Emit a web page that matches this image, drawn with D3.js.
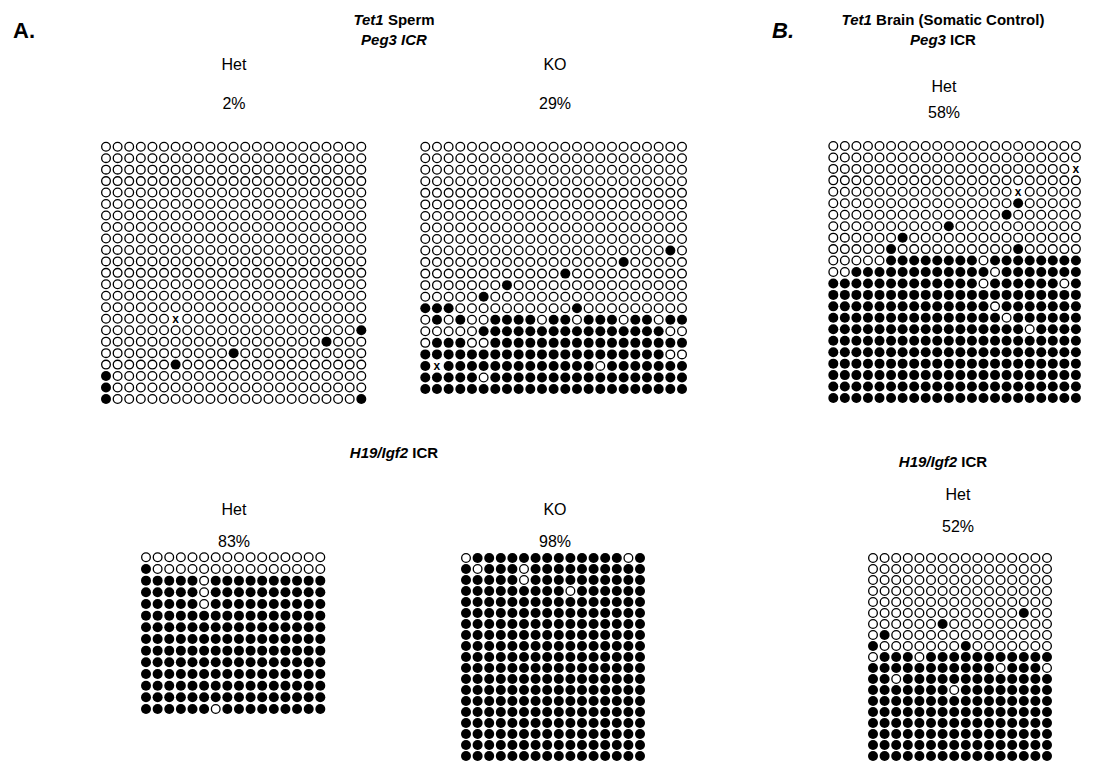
<!DOCTYPE html>
<html>
<head>
<meta charset="utf-8">
<script src="https://cdn.jsdelivr.net/npm/d3@7"></script>
<style>
  html, body { margin: 0; padding: 0; background: #fff; }
  svg { display: block; }
  text { font-family: "Liberation Sans", Arial, sans-serif; fill: #000; }
</style>
</head>
<body>
<div id="chart"></div>
<script>
// Bisulfite clones, one string per clone (row), one char per CpG.
// 1 = methylated (filled), 0 = unmethylated (open), x = not determined

const peg3SpermHet = [
  "00000000000000000000000",
  "00000000000000000000000",
  "00000000000000000000000",
  "00000000000000000000000",
  "00000000000000000000000",
  "00000000000000000000000",
  "00000000000000000000000",
  "00000000000000000000000",
  "00000000000000000000000",
  "00000000000000000000000",
  "00000000000000000000000",
  "00000000000000000000000",
  "00000000000000000000000",
  "00000000000000000000000",
  "00000000000000000000000",
  "000000x0000000000000000",
  "00000000000000000000001",
  "00000000000000000001000",
  "00000000000100000000000",
  "00000010000000000000000",
  "10000000000000000000000",
  "10000000000000000000000",
  "10000000000000000000001"
];

const peg3SpermKO = [
  "00000000000000000000000",
  "00000000000000000000000",
  "00000000000000000000000",
  "00000000000000000000000",
  "00000000000000000000000",
  "00000000000000000000000",
  "00000000000000000000000",
  "00000000000000000000000",
  "00000000000000000000000",
  "00000000000000000000010",
  "00000000000000000100000",
  "00000000000010000000000",
  "00000001000000000000000",
  "00000100000000000000000",
  "11100000000001000000000",
  "01010011110110111011011",
  "00000111111111111111100",
  "01110011111111111111111",
  "11111111111111111111100",
  "1x111111111111101111111",
  "11111011111111111111111",
  "11111111111111111111111"
];

const peg3BrainHet = [
  "0000000000000000000000",
  "0000000000000000000000",
  "000000000000000000000x",
  "0000000000000000000000",
  "0000000000000000x00000",
  "0000000000000000100000",
  "0000000000000001000000",
  "0000000000100000000000",
  "0000001000000000000000",
  "0000010000000000100000",
  "0000011111111011111111",
  "0011111111111101111111",
  "1111111111111011111101",
  "1111111111111111111111",
  "1111111111111101111111",
  "1111111111111110111111",
  "1111111111111111101111",
  "1111111111111111111111",
  "1111111111111111111111",
  "1111111111111111111111",
  "1111111111111111111111",
  "1111111111111111111111",
  "1111111111111111111111"
];

const h19SpermHet = [
  "0000000000000000",
  "1000000000000000",
  "1111101111111111",
  "1111101111111111",
  "1111101111111111",
  "1111111111111111",
  "1111111111111111",
  "1111111111111111",
  "1111111111111111",
  "1111111111111111",
  "1111111111111111",
  "1111111111111111",
  "1111111111111111",
  "1111110111111111"
];

const h19SpermKO = [
  "0111111111111101",
  "1011101111111111",
  "1111101111111111",
  "1111111110111111",
  "1111111111111111",
  "1111111111111111",
  "1111111111111111",
  "1111111111111111",
  "1111111111111111",
  "1111111111111111",
  "1111111111111111",
  "1111111111111111",
  "1111111111111111",
  "1111111111111111",
  "1111111111111111",
  "1111111111111111",
  "1111111111111111",
  "1111111111111111",
  "1111111111111111"
];

const h19BrainHet = [
  "0000000000000000",
  "0000000000000000",
  "0000000000000000",
  "0000000000000000",
  "0000000000000000",
  "0000000000000100",
  "0000001000000000",
  "0100000000000000",
  "1000000010000000",
  "0111011111111111",
  "1111111111101110",
  "1101111111111111",
  "1111111011111111",
  "1111111111111111",
  "1111111111111111",
  "1111111111111111",
  "1111111111111111",
  "1111111111111111",
  "1111111111111111"
];

const genotypes = ["Het", "KO", "Het", "Het", "KO", "Het"];
const percentLabels = ["2%", "29%", "58%", "83%", "98%", "52%"];

const width = 1110;
const height = 770;

const svg = d3.select("#chart")
  .append("svg")
  .attr("width", width)
  .attr("height", height);

// grid placement: first / last CpG centre and first / last clone centre
const panels = [
  { rows: peg3SpermHet, x: [106, 361.3], y: [146.7, 399], labelX: 234, labelY: [70, 109] },
  { rows: peg3SpermKO,  x: [425.3, 682], y: [146.7, 389], labelX: 555, labelY: [70, 109] },
  { rows: peg3BrainHet, x: [833.3, 1075.9], y: [146, 398], labelX: 944, labelY: [92, 118] },
  { rows: h19SpermHet,  x: [146, 320.3], y: [557.3, 709], labelX: 234, labelY: [515, 547] },
  { rows: h19SpermKO,   x: [466, 640], y: [558, 756], labelX: 555, labelY: [515, 547] },
  { rows: h19BrainHet,  x: [873, 1047], y: [558, 756], labelX: 958, labelY: [500, 532] }
];

function drawGrid(panel, i) {
  const nCols = panel.rows[0].length;
  const nRows = panel.rows.length;
  const xScale = d3.scaleLinear().domain([0, nCols - 1]).range(panel.x);
  const yScale = d3.scaleLinear().domain([0, nRows - 1]).range(panel.y);

  const cells = [];
  panel.rows.forEach((row, r) => {
    if (row.length !== nCols) console.warn("panel", i, "row", r, "has", row.length);
    row.split("").forEach((v, c) => cells.push({ r, c, v }));
  });

  const g = svg.append("g").attr("class", "grid-" + i);

  g.selectAll("circle")
    .data(cells.filter(d => d.v !== "x"))
    .join("circle")
    .attr("cx", d => xScale(d.c))
    .attr("cy", d => yScale(d.r))
    .attr("r", d => d.v === "1" ? 5 : 4.35)
    .attr("fill", d => d.v === "1" ? "#000" : "#fff")
    .attr("stroke", d => d.v === "1" ? "none" : "#000")
    .attr("stroke-width", 1.3);

  g.selectAll("text.missing")
    .data(cells.filter(d => d.v === "x"))
    .join("text")
    .attr("class", "missing")
    .attr("x", d => xScale(d.c))
    .attr("y", d => yScale(d.r) + 4)
    .attr("text-anchor", "middle")
    .style("font-size", "12px")
    .style("font-weight", "bold")
    .text("x");

  // genotype + percent methylated above each grid
  g.append("text")
    .attr("x", panel.labelX)
    .attr("y", panel.labelY[0])
    .attr("text-anchor", "middle")
    .style("font-size", "16px")
    .text(genotypes[i]);
  g.append("text")
    .attr("x", panel.labelX)
    .attr("y", panel.labelY[1])
    .attr("text-anchor", "middle")
    .style("font-size", "16px")
    .text(percentLabels[i]);
}

panels.forEach(drawGrid);

// titles made of italic / upright bold pieces
function title(x, y, parts, size) {
  const t = svg.append("text")
    .attr("x", x)
    .attr("y", y)
    .attr("text-anchor", "middle")
    .style("font-size", (size || 15) + "px")
    .style("font-weight", "bold");
  parts.forEach(([str, italic]) => {
    t.append("tspan")
      .style("font-style", italic ? "italic" : "normal")
      .text(str);
  });
}

svg.append("text").attr("x", 13).attr("y", 38)
  .style("font-size", "22px").style("font-weight", "bold").text("A.");
svg.append("text").attr("x", 772).attr("y", 38)
  .style("font-size", "22px").style("font-weight", "bold").style("font-style", "italic").text("B.");

title(394, 25, [["Tet1", true], [" Sperm", false]]);
title(394, 45, [["Peg3 ICR", true]]);
title(943, 25, [["Tet1", true], [" Brain (Somatic Control)", false]]);
title(943, 45, [["Peg3", true], [" ICR", false]]);
title(394, 458, [["H19/Igf2", true], [" ICR", false]]);
title(943, 467, [["H19/Igf2", true], [" ICR", false]]);
</script>
</body>
</html>
